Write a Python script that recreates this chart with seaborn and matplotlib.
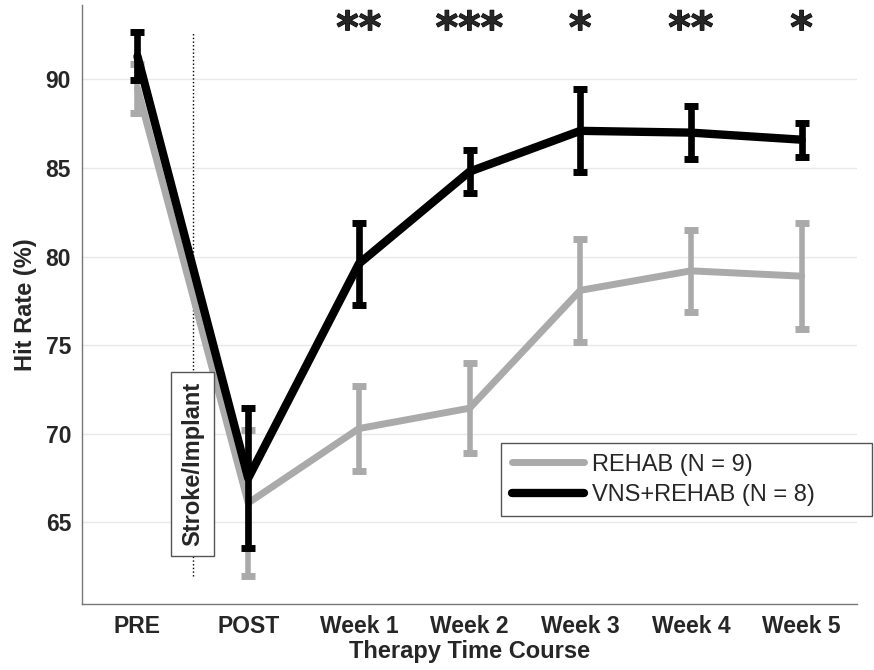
import numpy as np
import pandas as pd
import seaborn as sns
import matplotlib.pyplot as plt
import matplotlib.patheffects as pe

# 數據
stages = ["PRE", "POST", "Week 1", "Week 2", "Week 3", "Week 4", "Week 5"]
groups = ["REHAB (N = 9)", "VNS+REHAB (N = 8)"]
rehab_mean = [89.5, 66.1, 70.3, 71.45, 78.1, 79.2, 78.9]
rehab_sem = [1.4, 4.1, 2.4, 2.55, 2.9, 2.3, 3.0]
vns_mean = [91.3, 67.5, 79.6, 84.8, 87.1, 87.0, 86.6]
vns_sem = [1.35, 3.95, 2.3, 1.2, 2.35, 1.5, 0.95]
stars = ["", "", "**", "***", "*", "**", "*"]

sns.set_style("white")
plt.rcParams["font.family"] = ["Liberation Sans", "DejaVu Sans"]

df = pd.DataFrame({
    "stage": np.tile(np.arange(len(stages)), 2),
    "hit": rehab_mean + vns_mean,
    "sem": rehab_sem + vns_sem,
    "group": np.repeat(groups, len(stages)),
})

fig = plt.figure(figsize=(8.74, 6.7), dpi=100)
ax = fig.add_axes([0.094, 0.0985, 0.8865, 0.894])

colors = {groups[0]: "#aaaaaa", groups[1]: "black"}
widths = {groups[0]: 5.0, groups[1]: 6.0}
stems = {groups[0]: 4.0, groups[1]: 4.8}

for i, g in enumerate(groups):
    d = df[df["group"] == g]
    ax.errorbar(d["stage"], d["hit"], yerr=d["sem"], fmt="none",
                ecolor=colors[g], elinewidth=stems[g], capsize=5, capthick=5,
                zorder=2 + 2 * i)
    sns.lineplot(data=d, x="stage", y="hit", color=colors[g],
                 lw=widths[g], label=g, ax=ax, zorder=3 + 2 * i)

# stroke / implant marker
ax.plot([0.5, 0.5], [62.0, 92.65], ls=":", color="black", lw=1, zorder=1)
ax.text(0.5, 68.3, "Stroke/Implant", rotation=90, ha="center", va="center",
        fontsize=17, fontweight="bold", zorder=6,
        bbox=dict(boxstyle="square,pad=0.43", fc="white", ec="#555555", lw=1))

# significance stars
for i, s in enumerate(stars):
    if s:
        ax.text(i, 92.1, s, ha="center", va="baseline", fontsize=31,
                fontweight="bold", family="DejaVu Sans",
                path_effects=[pe.withStroke(linewidth=0.8, foreground="black")])

ax.set_xlim(-0.5, 6.5)
ax.set_ylim(60.4, 94.2)
ax.set_xticks(range(len(stages)))
ax.set_xticklabels(stages, fontweight="bold")
ax.set_yticks([65, 70, 75, 80, 85, 90])
for lab in ax.get_yticklabels():
    lab.set_fontweight("bold")
ax.tick_params(direction="in", length=5, color="#777777", labelsize=16.5, pad=8)
ax.yaxis.grid(True, color="#e8e8e8", lw=1)
ax.set_axisbelow(True)
sns.despine(ax=ax)
for sp in ["left", "bottom"]:
    ax.spines[sp].set_color("#777777")
    ax.spines[sp].set_linewidth(1)

ax.set_xlabel("Therapy Time Course", fontsize=17, fontweight="bold", labelpad=1)
ax.set_ylabel("Hit Rate (%)", fontsize=17, fontweight="bold", labelpad=6)

leg = ax.legend(loc="upper left", bbox_to_anchor=(0.541, 0.145, 0.479, 0.124),
                mode="expand", borderaxespad=0, fontsize=17,
                frameon=True, fancybox=False, edgecolor="#555555", framealpha=1,
                handlelength=3.05, handletextpad=0.34, labelspacing=0.35,
                borderpad=0.45)
leg.get_frame().set_linewidth(1)

fig.savefig("out.png", dpi=100)
